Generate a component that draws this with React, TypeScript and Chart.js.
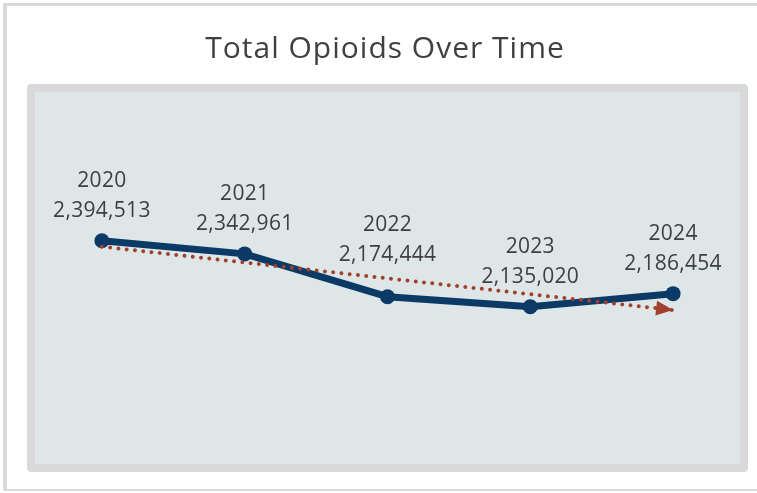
import React, { useEffect, useRef } from "react";
import { Chart, registerables } from "chart.js";

Chart.register(...registerables);

const years = ["2020", "2021", "2022", "2023", "2024"];
const totals = [2394513, 2342961, 2174444, 2135020, 2186454];
const titleText = "Total Opioids Over Time";

// Least-squares linear trendline (as the spreadsheet's trendline)
function linearTrend(vals: number[]): number[] {
  const n = vals.length;
  const mx = (n - 1) / 2;
  const my = vals.reduce((a, b) => a + b, 0) / n;
  let num = 0;
  let den = 0;
  vals.forEach((v, i) => {
    num += (i - mx) * (v - my);
    den += (i - mx) * (i - mx);
  });
  const slope = num / den;
  return vals.map((_, i) => my + slope * (i - mx));
}

const NAVY = "#0b3a66";
const TREND = "#a0412d";
const TEXT = "#404040";

const framePlugin = {
  id: "framePlugin",
  beforeDraw(chart: any) {
    const { ctx, chartArea } = chart;
    ctx.save();
    ctx.fillStyle = "#ffffff";
    ctx.fillRect(0, 0, chart.width, chart.height);
    // outer frame
    ctx.fillStyle = "#d9d9d9";
    ctx.fillRect(3, 3, chart.width, 3);
    ctx.fillRect(3, 3, 4, 488);
    ctx.fillRect(3, 489, chart.width, 2);
    // panel
    const x0 = chartArea.left - 3.5;
    const y0 = chartArea.top - 3;
    const x1 = chartArea.right + 3.5;
    const y1 = chartArea.bottom + 4;
    ctx.beginPath();
    ctx.roundRect(x0, y0, x1 - x0, y1 - y0, 4);
    ctx.fillStyle = "#d9d9d9";
    ctx.fill();
    ctx.fillStyle = "#dfe6e8";
    ctx.fillRect(x0 + 8, y0 + 8, x1 - x0 - 16, y1 - y0 - 16);
    // title
    ctx.fillStyle = TEXT;
    ctx.font = "30px 'Open Sans'";
    (ctx as any).letterSpacing = "1px";
    ctx.textAlign = "center";
    ctx.textBaseline = "alphabetic";
    ctx.fillText(titleText, 385, 58);
    ctx.restore();
  },
};

const decorPlugin = {
  id: "decorPlugin",
  afterDatasetsDraw(chart: any, _args: any, opts: any) {
    const { ctx } = chart;
    ctx.save();
    // arrow head on trendline
    const tmeta = chart.getDatasetMeta(0);
    const pts = tmeta.data;
    const a = pts[pts.length - 2];
    const b = pts[pts.length - 1];
    const ang = Math.atan2(b.y - a.y, b.x - a.x);
    const len = 17;
    const half = 7.5;
    const tipX = b.x;
    const tipY = b.y;
    const bx = tipX - len * Math.cos(ang);
    const by = tipY - len * Math.sin(ang);
    ctx.beginPath();
    ctx.moveTo(tipX, tipY);
    ctx.lineTo(bx + half * Math.sin(ang), by - half * Math.cos(ang));
    ctx.lineTo(bx - half * Math.sin(ang), by + half * Math.cos(ang));
    ctx.closePath();
    ctx.fillStyle = TREND;
    ctx.fill();

    // data labels
    const meta = chart.getDatasetMeta(1);
    ctx.fillStyle = TEXT;
    ctx.font = "21px 'Open Sans'";
    (ctx as any).letterSpacing = "0.3px";
    ctx.textAlign = "center";
    ctx.textBaseline = "alphabetic";
    const lifts: number[] = opts.lifts || [];
    meta.data.forEach((p: any, i: number) => {
      const base = p.y - 24 - (lifts[i] || 0);
      ctx.fillText(totals[i].toLocaleString("en-US"), p.x, base);
      ctx.fillText(years[i], p.x, base - 30);
    });
    ctx.restore();
  },
};

export default function App() {
  const ref = useRef<HTMLCanvasElement>(null);
  useEffect(() => {
    if (!ref.current) return;
    const trend = linearTrend(totals);
    const chart = new Chart(ref.current, {
      type: "line",
      data: {
        labels: years,
        datasets: [
          {
            label: "Trend",
            data: trend,
            borderColor: TREND,
            borderWidth: 4,
            borderDash: [0.01, 8.3],
            borderCapStyle: "round",
            pointRadius: 0,
            tension: 0,
            fill: false,
          },
          {
            label: "Total Opioids",
            data: totals,
            borderColor: NAVY,
            backgroundColor: NAVY,
            borderWidth: 7,
            pointRadius: 7.5,
            pointBorderWidth: 0,
            pointBackgroundColor: NAVY,
            tension: 0,
            fill: false,
          },
        ],
      },
      options: {
        responsive: false,
        animation: false,
        layout: { padding: { left: 30.5, right: 12.5, top: 87, bottom: 25 } },
        scales: {
          x: { display: false, offset: true },
          y: { display: false, min: 1500000, max: 3000000 },
        },
        plugins: {
          legend: { display: false },
          tooltip: { enabled: false },
          title: { display: false },
          decorPlugin: { lifts: [0, 0, 12, 0, 0] },
        } as any,
      },
      plugins: [framePlugin, decorPlugin],
    });
    return () => chart.destroy();
  }, []);
  return (
    <div style={{ position: "fixed", left: 0, top: 0, width: 757, height: 493 }}>
      <canvas ref={ref} width={757} height={493} style={{ display: "block" }} aria-label={titleText} />
    </div>
  );
}
